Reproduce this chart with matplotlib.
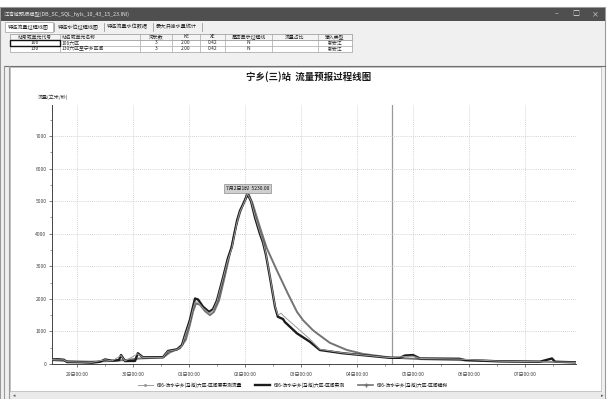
import matplotlib
matplotlib.use("Agg")
import matplotlib.pyplot as plt
import matplotlib.dates as mdates
from matplotlib.patches import Rectangle
from matplotlib.lines import Line2D
from matplotlib.ticker import MultipleLocator
import pandas as pd

plt.rcParams['font.family'] = ['Noto Sans CJK SC', 'DejaVu Sans']

# --- 数据 (小时, 以 6月29日00:00 为起点) ---
base_time = pd.Timestamp("2017-06-29 00:00")

obs_hours = [-10.7, -8.1, -5.6, -4.3, 1.3, 6.4, 9.9, 12, 15, 18, 18.9, 20.6, 24.9,
             26.1, 28.3, 36.9, 39, 42.9, 45, 46.3, 48.4, 49.7, 50.6, 51.9, 54,
             56.6, 58.3, 60, 62.6, 64.7, 66.4, 68.6, 69.9, 72, 73, 74.6, 76.3,
             78.4, 79.7, 81, 82.7, 84.9, 86.1, 88.3, 89.1, 94.3, 99.9, 104.1,
             114, 121.3, 134.1, 138.4, 140.6, 144, 147, 164, 166.3, 181.3,
             198.4, 203.6, 204.9, 213.9]
obs_flow = [140, 145, 130, 60, 55, 40, 70, 140, 100, 120, 275, 90, 95,
            330, 205, 210, 400, 450, 580, 890, 1350, 1750, 2010, 1980, 1760,
            1600, 1680, 1950, 2650, 3250, 3600, 4400, 4710, 5020, 5230, 5000, 4500,
            4000, 3740, 3350, 2670, 1750, 1450, 1380, 1290, 940, 680, 430,
            330, 280, 190, 190, 260, 275, 170, 160, 120, 80,
            70, 170, 70, 50]

sim_hours = [-10.7, -4.3, 5.6, 14.1, 20.6, 27, 36.9, 39.9, 44.1, 46.7, 48.4, 49.7,
             51, 52.7, 54.9, 57, 58.7, 60.9, 63.4, 65.6, 67.7, 69.9, 72, 73.7,
             75.4, 77.1, 79.3, 81.4, 85.7, 90.4, 94.3, 96.9, 101.1, 102.9, 108.4,
             115.7, 122.6, 134.1, 147, 164.1, 181.3, 198.4, 213.9]
sim_flow = [120, 90, 70, 90, 120, 170, 200, 360, 480, 750, 1200, 1600,
            1860, 1820, 1620, 1500, 1600, 1950, 2700, 3400, 4100, 4650, 5050, 5200,
            4900, 4500, 4000, 3550, 2870, 2160, 1600, 1345, 1040, 940, 650,
            430, 310, 200, 150, 120, 90, 70, 55]

raw_hours = [-10.7, -5.6, -4.3, 6.4, 12, 15, 18.9, 20.6, 26.1, 28.3, 36.9, 39,
             42.9, 45, 46.3, 48.4, 49.7, 50.6, 51.9, 54, 56.6, 58.3, 60, 62.6,
             64.7, 66.4, 68.6, 69.9, 72, 73, 74.6, 76.3, 78.4, 79.7, 81, 82.7,
             84.9, 86.1, 87.5, 88.5, 99.9, 104.1, 114, 121.3, 134.1, 140.6, 144,
             147, 164, 181.3, 198.4, 213.9]
raw_flow = [135, 125, 70, 50, 130, 95, 260, 95, 310, 200, 205, 390,
            440, 560, 850, 1300, 1680, 1900, 1900, 1720, 1560, 1640, 1920, 2620,
            3200, 3560, 4350, 4680, 5000, 5230, 5020, 4550, 4050, 3780, 3380, 2700,
            1780, 1500, 1560, 1480, 760, 450, 340, 285, 195, 230, 240,
            170, 150, 85, 70, 50]

series_names = ["606-沩水宁乡(马池)六区-区间原实测流量",
                "606-沩水宁乡(马池)六区-区间实测",
                "606-沩水宁乡(马池)六区-区间模拟"]

peak_hour = 73
peak_flow = 5230
forecast_hour = 135
x_range_hours = (-10.7, 213.9)
y_max = 7950

tabs = ["特征流量过程线图", "特征水位过程线图", "特征流量水位数据", "最大洪峰水量统计"]
table_header = ["站号或单元代号", "站名或单元名称", "河长数", "KE", "XE",
                "是否显示过程线", "流量占比", "输入类型"]
table_rows = [["106", "106六区", "3", "2.00", "0.42", "N", "", "新安江"],
              ["130", "130六区至宁乡区间", "3", "2.00", "0.42", "N", "", "新安江"]]


def to_time(hours):
    return base_time + pd.to_timedelta(pd.Series(hours, dtype=float), unit="h")


W, H = 609, 399
fig = plt.figure(figsize=(W / 100, H / 100), dpi=100)
fig.patch.set_facecolor("white")


def box(x0, y0, x1, y1, fc, ec="none", lw=0.6, z=0):
    fig.add_artist(Rectangle((x0 / W, 1 - y1 / H), (x1 - x0) / W, (y1 - y0) / H,
                             transform=fig.transFigure, fc=fc, ec=ec, lw=lw, zorder=z))


def hline(x0, x1, y, color, lw=0.6):
    fig.add_artist(Line2D([x0 / W, x1 / W], [1 - y / H, 1 - y / H],
                          transform=fig.transFigure, color=color, lw=lw))


def vline(x, y0, y1, color, lw=0.6):
    fig.add_artist(Line2D([x / W, x / W], [1 - y0 / H, 1 - y1 / H],
                          transform=fig.transFigure, color=color, lw=lw))


def label(x, y, s, size=3.8, color="#222222", ha="left", **kw):
    fig.text(x / W, 1 - y / H, s, fontsize=size, color=color, ha=ha, va="center", **kw)


# 窗口外框与标题栏
box(0, 7, 605, 399, "#f0f0f0", ec="#9a9a9a", lw=0.8)
box(1, 8, 605, 21, "#4f4f4f")
label(4, 14.5, "江湾城预报模型(DB_SC_SQL_hyls_10_43_15_23.INI)", size=3.8, color="#e6e6e6")
label(557, 14.5, "–", size=5, color="#e6e6e6", ha="center")
label(576, 14.5, "□", size=5, color="#e6e6e6", ha="center")
label(595, 14.5, "×", size=5, color="#e6e6e6", ha="center")

# 选项卡
box(5, 22, 53, 32, "white", ec="#a0a0a0", lw=0.5)
tab_x = [8, 58, 107, 156]
for tx, t in zip(tab_x, tabs):
    label(tx, 27, t, size=3.7)
    vline(tx + 46, 23, 31, "#8a8a8a", lw=0.5)

# 参数表
cols = [10, 60, 140, 172, 200, 225, 272, 318, 352]
row_y = [34, 40, 46, 52]
box(cols[0], row_y[0], cols[-1], row_y[-1], "white", ec="#a0a0a0", lw=0.5)
box(cols[0], row_y[0], cols[-1], row_y[1], "#f4f4f4", ec="#a0a0a0", lw=0.5)
for cx in cols[1:-1]:
    vline(cx, row_y[0], row_y[-1], "#a8a8a8", lw=0.5)
for ry in row_y[1:-1]:
    hline(cols[0], cols[-1], ry, "#a8a8a8", lw=0.5)
for ci, h in enumerate(table_header):
    if ci == 1:
        label(cols[ci] + 2, 37, h, size=3.5)
    else:
        label((cols[ci] + cols[ci + 1]) / 2, 37, h, size=3.5, ha="center")
for ri, row in enumerate(table_rows):
    yy = (row_y[ri + 1] + row_y[ri + 2]) / 2
    for ci, v in enumerate(row):
        if ci == 1:
            label(cols[ci] + 2, yy, v, size=3.5)
        else:
            label((cols[ci] + cols[ci + 1]) / 2, yy, v, size=3.5, ha="center")
box(cols[0], row_y[1], cols[1], row_y[2], "none", ec="#111111", lw=1.0, z=3)
hline(4, 605, 65.5, "#707070", lw=0.8)

# 图形区
box(10, 67, 601, 391, "white", ec="#b0b0b0", lw=0.5)
vline(4, 66, 399, "#9a9a9a", lw=0.8)
vline(9, 66, 399, "#9a9a9a", lw=0.8)
box(10, 392, 605, 399, "#eaeaea")
label(14, 395.5, "◂", size=3.5, color="#555555", ha="center")
label(602, 395.5, "▸", size=3.5, color="#555555", ha="center")

label(309, 77, "宁乡(三)站  流量预报过程线图", size=6.8, color="#1a1a1a",
      ha="center", fontweight="bold")
label(38, 97, "流量(立米/秒)", size=3.6, color="#333333")

ax = fig.add_axes([52 / W, 1 - 364 / H, (576 - 52) / W, (364 - 105) / H])
ax.set_facecolor("white")

ax.plot(to_time(raw_hours), raw_flow, color="#9c9c9c", lw=0.7, zorder=4)
ax.plot(to_time(obs_hours), obs_flow, color="#1c1c1c", lw=1.7, zorder=3)
ax.plot(to_time(sim_hours), sim_flow, color="#737373", lw=1.4, zorder=2)

ax.axvline(to_time([forecast_hour])[0], color="#9a9a9a", lw=0.9, zorder=1)

ax.set_xlim(to_time([x_range_hours[0]])[0], to_time([x_range_hours[1]])[0])
ax.set_ylim(0, y_max)

ax.xaxis.set_major_locator(mdates.DayLocator())
ax.xaxis.set_minor_locator(mdates.HourLocator(byhour=[12]))
ax.xaxis.set_major_formatter(mdates.DateFormatter("%d日%H:%M"))
ax.yaxis.set_major_locator(MultipleLocator(1000))
ax.yaxis.set_minor_locator(MultipleLocator(500))

ax.grid(True, which="major", color="#c4c4c4", lw=0.6, ls=(0, (1, 1.5)))
for s in ["top", "right"]:
    ax.spines[s].set_visible(False)
for s in ["left", "bottom"]:
    ax.spines[s].set_color("#444444")
    ax.spines[s].set_linewidth(0.7)
ax.tick_params(axis="both", which="major", labelsize=3.6, length=2.5, width=0.5,
               colors="#444444", pad=1.5)
ax.tick_params(axis="both", which="minor", length=1.5, width=0.4, colors="#444444")
ax.tick_params(axis="x", pad=3)

ax.annotate("7月2日1时  %.2f" % peak_flow,
            xy=(to_time([peak_hour])[0], peak_flow), xytext=(0, 2),
            textcoords="offset points", ha="center", va="bottom", fontsize=3.6,
            color="#111111", zorder=6,
            bbox=dict(boxstyle="square,pad=0.4", fc="#cfcfcf", ec="#8c8c8c", lw=0.5))

handles = [Line2D([], [], color="#9c9c9c", lw=0.7, marker="o", ms=1.2),
           Line2D([], [], color="#1c1c1c", lw=1.7),
           Line2D([], [], color="#737373", lw=1.2, marker="+", ms=2.2)]
fig.legend(handles, series_names, loc="center", bbox_to_anchor=(0.481, 1 - 385 / H),
           ncol=3, frameon=False, fontsize=3.4, handlelength=3.2, columnspacing=2.8,
           numpoints=1, handletextpad=0.8)

fig.savefig("out.png", dpi=100)
